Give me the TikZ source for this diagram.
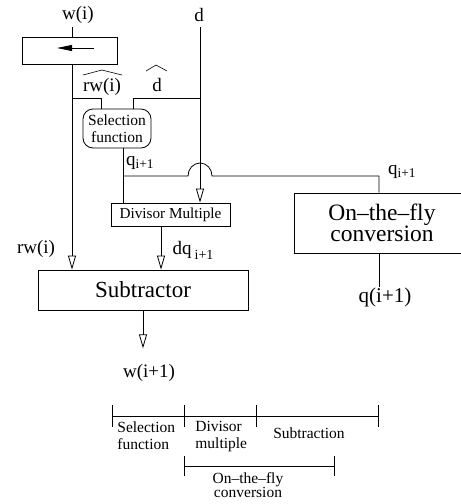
\documentclass[tikz,border=0pt]{standalone}
\usepackage{amsmath}
\usepackage{fontspec}
\setmainfont{Liberation Serif}
\usetikzlibrary{arrows.meta,calc}

\tikzset{
  blk/.style={draw,rectangle,inner sep=0pt,line width=0.8pt},
  lbl/.style={inner sep=0pt,font=\fontsize{19}{21}\selectfont},
  small/.style={inner sep=0pt,align=left,font=\fontsize{15.5}{17}\selectfont},
}

\begin{document}
\begin{tikzpicture}[x=1pt,y=-1pt,line width=0.8pt,
  >={Triangle[open,length=14pt,width=8pt,line width=0.8pt]}]
\clip (0,0) rectangle (461,504);

% blocks
\node[blk,minimum width=95pt,minimum height=27pt] (shift) at (69.5,50.5) {};
\node[blk,rounded corners=10pt,minimum width=68pt,minimum height=39pt,align=center,
  font=\fontsize{15.5}{17}\selectfont] (sel) at (117,128.5) {Selection\\function};
\node[blk,minimum width=119pt,minimum height=23pt,font=\fontsize{15.2}{17}\selectfont]
  (dm) at (170.5,214.5) {Divisor Multiple};
\node[blk,minimum width=210pt,minimum height=40pt,font=\fontsize{23}{25}\selectfont]
  (sub) at (143,290) {Subtractor};
\node[blk,minimum width=176pt,minimum height=60pt,align=center,
  font=\fontsize{23.5}{19}\selectfont] (otf) at (382,223) {On–the–fly\\conversion};

% labels
\node[lbl] (wi) at (78,15) {w(i)};
\node[lbl] (d) at (199,15) {d};
\node[lbl] (rwh) at (102,87) {rw(i)};
\node[lbl] (dh) at (157,85) {d};
\node[lbl] (qa) at (140,163) {q$_\text{i+1}$};
\node[lbl] (qb) at (402,172) {q$_\text{i+1}$};
\node[lbl] (rw) at (36,249) {rw(i)};
\node[lbl] (dq) at (193,250) {dq\,\raisebox{-5pt}{\fontsize{14}{14}\selectfont i+1}};
\node[lbl] (wn) at (149,373) {w(i+1)};
\node[lbl,font=\fontsize{21}{23}\selectfont] (qn) at (385,297) {q(i+1)};

% hats
\draw[line width=0.6pt] (83,75) -- (102,70) -- (122,75);
\draw[line width=0.6pt] (146,71) -- (156,65) -- (167,71);

\coordinate (wt) at (72,27);
\coordinate (dt) at (200,27);
\coordinate (jn) at (72,98);
\coordinate (qs) at (123,148);
\coordinate (qr) at (379,176);
\coordinate (dqx) at (161,226);

% shifter
\draw (wt) -- (wt |- shift.north);
\draw[-{Triangle[length=15pt,width=6pt]}] ([xshift=24.5pt,yshift=2.5pt]shift.center)
  -- ([xshift=-12.5pt,yshift=2.5pt]shift.center);
\draw[->] (wt |- shift.south) -- (wt |- sub.north);

% to selection function
\draw (jn) -| ([xshift=-16pt]sel.north);
\draw ([xshift=16pt]sel.north) |- (dt |- jn);
\draw[->] (dt) -- (dt |- dm.north);

% quotient digit
\draw (qs) -- (qs |- dm.north);
\draw (qs |- qr) -- (188,176) arc[start angle=180,end angle=360,x radius=12,y radius=13]
  -- (qr) -- (qr |- otf.north);
\draw (otf.south -| qr) -- ++(0,34);
\draw[->] (dqx) -- (dqx |- sub.north);
\draw[->] (sub.south) -- ++(0,38);

% timing
\coordinate (t0) at (112,416);
\coordinate (t1) at (184,416);
\coordinate (t2) at (256,416);
\coordinate (t3) at (378,416);
\draw (t0) -- (t3);
\foreach \t in {t0,t1,t2,t3}
  \draw ([yshift=11pt]\t) -- ([yshift=-11pt]\t);
\coordinate (u0) at (184,466);
\coordinate (u1) at (334,466);
\draw (u0) -- (u1);
\foreach \t in {u0,u1}
  \draw ([yshift=10pt]\t) -- ([yshift=-10pt]\t);

\node[small,anchor=north west] (ls) at (117,421) {Selection\\function};
\node[small,anchor=north west] (ld) at (195,421) {Divisor\\multiple};
\node[small] (lsub) at (309,433) {Subtraction};
\node[small,align=center,font=\fontsize{15.5}{14.5}\selectfont] (lo) at (248,485)
  {On–the–fly\\conversion};
\end{tikzpicture}
\end{document}
